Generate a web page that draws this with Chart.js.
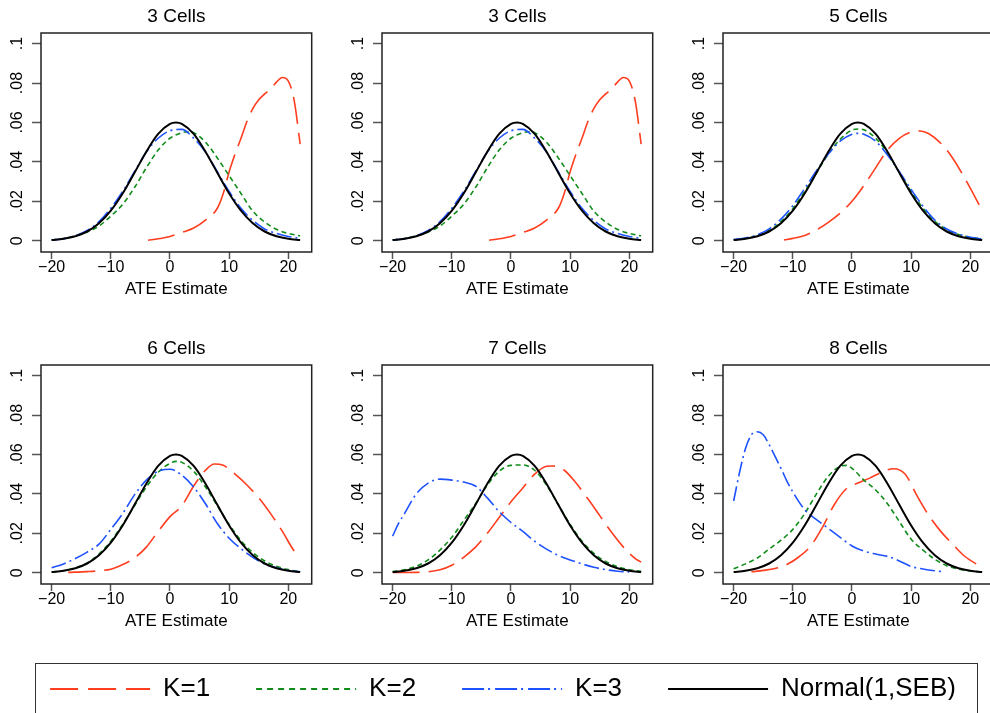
<!DOCTYPE html>
<html><head><meta charset="utf-8">
<script src="https://cdn.jsdelivr.net/npm/chart.js@4"></script>
<style>
html,body{margin:0;padding:0;background:#fff;width:990px;height:713px;overflow:hidden;position:relative;}
canvas.panel{position:absolute;}
#legendBox{position:absolute;left:35px;top:663px;width:943px;height:80px;border:1.5px solid #333;box-sizing:border-box;}
#legend{position:absolute;left:-47px;top:630px;}
</style></head><body>
<div id="legendBox"></div>
<canvas class="panel" id="p0" width="330" height="310" style="left:0px;top:0px"></canvas>
<canvas class="panel" id="p1" width="330" height="310" style="left:341px;top:0px"></canvas>
<canvas class="panel" id="p2" width="330" height="310" style="left:682px;top:0px"></canvas>
<canvas class="panel" id="p3" width="330" height="310" style="left:0px;top:332px"></canvas>
<canvas class="panel" id="p4" width="330" height="310" style="left:341px;top:332px"></canvas>
<canvas class="panel" id="p5" width="330" height="310" style="left:682px;top:332px"></canvas>
<canvas id="legend" width="1100" height="140"></canvas>
<script>
// ---------------- data ----------------
const panelTitles = ['3 Cells', '3 Cells', '5 Cells', '6 Cells', '7 Cells', '8 Cells'];
const seriesNames = ['K=1', 'K=2', 'K=3', 'Normal(1,SEB)'];
const xTicks = [-20, -10, 0, 10, 20];
const yTicks = [0, 0.02, 0.04, 0.06, 0.08, 0.1];
const yTickLabels = ['0', '.02', '.04', '.06', '.08', '.1'];
const xAxisTitle = 'ATE Estimate';

const gridA = [-20,-18,-16,-14,-12,-10,-8,-6,-4,-2,0,1,2,4,6,8,10,12,14,16,18,20,22];
const gridB = [-20,-18,-16,-14,-12,-10,-8,-6,-4,-2,0,2,4,6,8,10,12,14,16,18,20,22];

// Normal(1,SEB) curve (same in every panel)
const normalX = gridA;
const normalY = [0.0004,0.001,0.0023,0.0047,0.0089,0.0153,0.024,0.0345,0.0452,0.0542,0.0593,0.0600,0.0593,0.0542,0.0452,0.0345,0.024,0.0153,0.0089,0.0047,0.0023,0.001,0.0004];

// 3 Cells
const c3_k1x = [-3.7,-2,0,2,4,6,8,9,10,11,12,13,14,15,16,17,18,19,20,21,22];
const c3_k1y = [0.0003,0.001,0.0022,0.0042,0.0065,0.0105,0.0165,0.024,0.035,0.044,0.052,0.0605,0.067,0.0715,0.0745,0.077,0.0805,0.0828,0.081,0.071,0.049];
const c3_k2x = [-20,-18,-16,-14,-12,-10,-8,-6,-4,-2,0,2,3,4,6,8,10,12,14,16,18,20,22];
const c3_k2y = [0.0004,0.0011,0.0025,0.0045,0.0075,0.0125,0.0185,0.027,0.037,0.046,0.052,0.0548,0.0553,0.0548,0.050,0.042,0.033,0.024,0.015,0.0095,0.0058,0.0037,0.0025];
const c3_k3x = gridB;
const c3_k3y = [0.0004,0.001,0.0025,0.0052,0.0097,0.0165,0.025,0.035,0.045,0.052,0.0558,0.0565,0.052,0.045,0.035,0.025,0.0165,0.0103,0.006,0.0037,0.0022,0.0012];

// 5 Cells
const c5_k1x = [-11.5,-10,-8,-6,-4,-2,0,2,4,6,8,10,11.5,13,15,17,19,21,22];
const c5_k1y = [0.0004,0.0012,0.0027,0.0055,0.0093,0.014,0.020,0.028,0.037,0.046,0.052,0.0552,0.0557,0.0543,0.0495,0.042,0.032,0.021,0.0152];
const c5_k2x = gridA;
const c5_k2y = [0.0005,0.0012,0.0026,0.0052,0.0097,0.0163,0.025,0.0345,0.044,0.0515,0.0562,0.0567,0.0563,0.052,0.0445,0.0345,0.025,0.0165,0.0098,0.0057,0.0032,0.0017,0.0009];
const c5_k3x = gridA;
const c5_k3y = [0.0006,0.0014,0.003,0.006,0.011,0.0178,0.0265,0.0355,0.044,0.0505,0.054,0.0545,0.054,0.0505,0.0435,0.035,0.026,0.0175,0.0105,0.006,0.0034,0.0018,0.0009];

// 6 Cells
const c6_k1x = [-17.2,-14,-12,-10,-8,-6,-4,-2,0,2,4,6,7.5,9,11,13,15,17,19,21,22];
const c6_k1y = [0.0002,0.0006,0.001,0.0018,0.0042,0.0075,0.013,0.021,0.0285,0.034,0.044,0.052,0.0552,0.0545,0.050,0.0445,0.038,0.030,0.021,0.011,0.008];
const c6_k2x = gridA;
const c6_k2y = [0.0004,0.001,0.0025,0.005,0.0095,0.016,0.0245,0.034,0.0435,0.051,0.0555,0.0565,0.056,0.0515,0.0435,0.034,0.0245,0.0163,0.0102,0.006,0.0033,0.0016,0.0006];
const c6_k3x = gridB;
const c6_k3y = [0.0025,0.0045,0.0072,0.0105,0.0145,0.022,0.030,0.0395,0.047,0.0515,0.0525,0.0495,0.0435,0.035,0.025,0.0175,0.0122,0.0078,0.0045,0.0025,0.0012,0.0005];

// 7 Cells
const c7_k1x = [-20,-16,-14,-12,-10,-8,-6,-4,-2,0,2,4,6,7,9,11,13,15,17,19,21,22];
const c7_k1y = [0.0001,0.0002,0.0005,0.0015,0.0038,0.0078,0.013,0.020,0.028,0.036,0.043,0.050,0.054,0.0542,0.052,0.0455,0.0375,0.029,0.0205,0.013,0.0072,0.0054];
const c7_k2x = gridB;
const c7_k2y = [0.0006,0.0015,0.0033,0.0065,0.0115,0.018,0.0265,0.035,0.0445,0.0515,0.0545,0.0547,0.052,0.0445,0.0345,0.0245,0.016,0.0098,0.0057,0.0031,0.0015,0.0007];
const c7_k3x = [-20,-19,-18,-16,-14,-12,-10,-8,-6,-4,-2,0,2,4,6,8,10,12,14,16,18,20];
const c7_k3y = [0.0186,0.025,0.030,0.040,0.0455,0.0475,0.047,0.046,0.044,0.038,0.031,0.0255,0.021,0.016,0.012,0.0088,0.0065,0.0045,0.0028,0.0016,0.0008,0.0004];

// 8 Cells
const c8_k1x = [-17,-15,-13,-11,-9,-7,-5,-3,-1,1,3,5,7,9,11,13,15,17,19,21,22];
const c8_k1y = [0.0005,0.0012,0.0022,0.0042,0.008,0.0135,0.023,0.0345,0.0425,0.0455,0.048,0.051,0.0528,0.050,0.039,0.029,0.021,0.0145,0.0085,0.0045,0.003];
const c8_k2x = [-20,-18,-16,-14,-12,-10,-8,-6,-4,-2,-1,0,2,4,6,8,10,12,14,16,18,20,22];
const c8_k2y = [0.002,0.0045,0.0075,0.012,0.0165,0.022,0.030,0.040,0.049,0.054,0.0545,0.053,0.047,0.042,0.035,0.026,0.017,0.0115,0.0068,0.0036,0.0019,0.0009,0.0003];
const c8_k3x = [-20,-19,-18,-17,-16,-15,-14,-13,-12,-11,-10,-8,-6,-4,-2,0,2,4,6,8,10,12,14,15.3];
const c8_k3y = [0.0364,0.051,0.063,0.070,0.0715,0.070,0.065,0.059,0.053,0.0465,0.041,0.032,0.027,0.0225,0.018,0.0136,0.011,0.0095,0.0083,0.006,0.0032,0.0019,0.001,0.0006];

const panelSeries = [
  [c3_k1x, c3_k1y, c3_k2x, c3_k2y, c3_k3x, c3_k3y],
  [c3_k1x, c3_k1y, c3_k2x, c3_k2y, c3_k3x, c3_k3y],
  [c5_k1x, c5_k1y, c5_k2x, c5_k2y, c5_k3x, c5_k3y],
  [c6_k1x, c6_k1y, c6_k2x, c6_k2y, c6_k3x, c6_k3y],
  [c7_k1x, c7_k1y, c7_k2x, c7_k2y, c7_k3x, c7_k3y],
  [c8_k1x, c8_k1y, c8_k2x, c8_k2y, c8_k3x, c8_k3y]
];

// ---------------- style ----------------
const FONT = "'Liberation Sans', Arial, Helvetica, sans-serif";
const RED = '#ff3d1f', GREEN = '#118c1a', BLUE = '#1f52ff', BLACK = '#000000';
const styles = [
  {color: RED, width: 1.6, dash: [27, 9], legendDash: [28, 10]},
  {color: GREEN, width: 1.6, dash: [5, 3.5], legendDash: [6, 5]},
  {color: BLUE, width: 1.6, dash: [15, 4, 2, 4], legendDash: [22, 4, 2, 5]},
  {color: BLACK, width: 2, dash: [], legendDash: []}
];

const pts = (xs, ys) => xs.map((x, i) => ({x: x, y: ys[i]}));
const minus = s => String(s).replace('-', '\u2212');

const framePlugin = {
  id: 'frame',
  afterDatasetsDraw(chart) {
    const {ctx, chartArea: a} = chart;
    ctx.save();
    ctx.strokeStyle = '#222';
    ctx.lineWidth = 1.5;
    ctx.strokeRect(a.left, a.top, a.right - a.left, a.bottom - a.top);
    ctx.restore();
  }
};

function makePanel(idx) {
  const s = panelSeries[idx];
  const ds = (k, xs, ys) => ({
    label: seriesNames[k], data: pts(xs, ys),
    borderColor: styles[k].color, borderWidth: styles[k].width, borderDash: styles[k].dash,
    pointRadius: 0, fill: false, cubicInterpolationMode: 'monotone'
  });
  const datasets = [
    ds(3, normalX, normalY),
    ds(2, s[4], s[5]),
    ds(1, s[2], s[3]),
    ds(0, s[0], s[1])
  ];
  new Chart(document.getElementById('p' + idx), {
    type: 'line',
    data: {datasets},
    plugins: [framePlugin],
    options: {
      responsive: false, animation: false, events: [],
      layout: {padding: {left: 0, right: 18.3, top: 0, bottom: 0}},
      plugins: {
        legend: {display: false}, tooltip: {enabled: false},
        title: {display: true, text: panelTitles[idx], fullSize: false, color: '#000',
          font: {family: FONT, size: 19, weight: 'normal'}, padding: {top: 5.8, bottom: 4.4}}
      },
      scales: {
        x: {
          type: 'linear', min: -21.8, max: 23.95,
          afterBuildTicks: sc => { sc.ticks = xTicks.map(v => ({value: v})); },
          afterFit: sc => { sc.height = 58; },
          grid: {display: true, drawOnChartArea: false, drawTicks: true, tickLength: 7, tickColor: '#555', tickWidth: 1.5},
          border: {display: false},
          ticks: {color: '#000', font: {family: FONT, size: 16}, padding: -1.5, maxRotation: 0, autoSkip: false,
            callback: v => minus(v)},
          title: {display: true, text: xAxisTitle, color: '#000', font: {family: FONT, size: 17}, padding: {top: 0, bottom: 10}}
        },
        y: {
          type: 'linear', min: -0.0057, max: 0.1054,
          afterBuildTicks: sc => { sc.ticks = yTicks.map(v => ({value: v})); },
          afterFit: sc => { sc.width = 41; },
          grid: {display: true, drawOnChartArea: false, drawTicks: true, tickLength: 9, tickColor: '#555', tickWidth: 1.5},
          border: {display: false},
          ticks: {color: '#000', font: {family: FONT, size: 16}, minRotation: 90, maxRotation: 90, crossAlign: 'center',
            padding: 3, autoSkip: false, callback: (v, i) => yTickLabels[i]}
        }
      }
    }
  });
}
for (let i = 0; i < 6; i++) makePanel(i);

// ---------------- legend ----------------
new Chart(document.getElementById('legend'), {
  type: 'line',
  data: {datasets: seriesNames.map((n, k) => ({
    label: n, data: [{x: 0, y: 0}], borderColor: styles[k].color, borderWidth: 2,
    borderDash: styles[k].legendDash, pointRadius: 0
  }))},
  options: {
    responsive: false, animation: false, events: [],
    scales: {x: {type: 'linear', display: false}, y: {display: false}},
    plugins: {
      tooltip: {enabled: false},
      legend: {
        display: true, position: 'top', align: 'center',
        labels: {
          usePointStyle: true, pointStyle: 'line', pointStyleWidth: 100,
          font: {family: FONT, size: 26}, color: '#000', padding: 46,
          generateLabels: chart => {
            const items = Chart.defaults.plugins.legend.labels.generateLabels(chart);
            items.forEach((it, i) => {
              const d = chart.data.datasets[i];
              it.lineDash = d.borderDash; it.lineWidth = d.borderWidth; it.strokeStyle = d.borderColor;
              it.pointStyle = 'line';
            });
            return items;
          }
        }
      }
    }
  }
});
</script>
</body></html>
